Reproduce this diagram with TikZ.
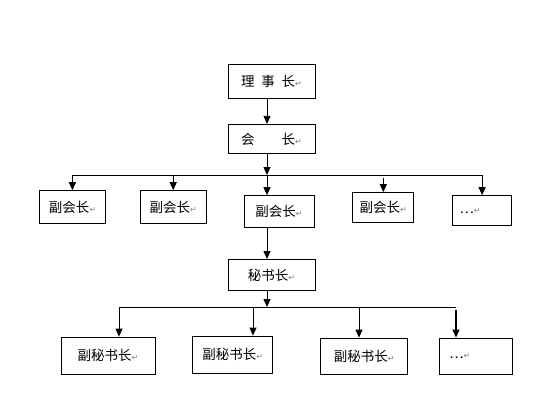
\documentclass[tikz,border=0pt]{standalone}
\usepackage{fontspec}
\setmainfont{Liberation Serif}
\newfontfamily\cjk{Noto Sans CJK SC}
\newfontfamily\symfont{DejaVu Sans}
\usetikzlibrary{arrows.meta,positioning}
\newcommand{\pmark}{{\symfont\fontsize{8}{8}\selectfont\color{gray}↵}}
\tikzset{
  box/.style={draw,line width=0.8pt,inner sep=0pt,font=\cjk\fontsize{13.5}{15}\selectfont},
  dotbox/.style={box,inner xsep=7pt,align=left,text width=#1},
  arr/.style={line width=0.8pt,-{Triangle[length=8pt,width=7pt]}},
  link/.style={line width=0.8pt}
}

\begin{document}
\begin{tikzpicture}[x=1pt,y=-1pt]
  \useasboundingbox (0,0) rectangle (552,413);
  % main column
  \node[box,minimum width=87pt,minimum height=34.5pt] (lsz) at (271.5,81.25) {理\hspace{0.5em}事\hspace{0.5em}长\pmark};
  \node[box,minimum width=87pt,minimum height=29.5pt,below=25pt of lsz] (hz) {会\hspace{2em}长\pmark};
  \node[box,minimum width=70pt,minimum height=32pt,below=41pt of hz,xshift=7.5pt] (vp3) {副会长\pmark};
  \node[box,minimum width=87pt,minimum height=31pt,below=31pt of vp3,xshift=-7.5pt] (ms) {秘书长\pmark};
  % vice presidents
  \node[box,minimum width=66pt,minimum height=33pt,left=37pt of vp3,yshift=4.5pt] (vp2) {副会长\pmark};
  \node[box,minimum width=66pt,minimum height=33pt,left=34pt of vp2] (vp1) {副会长\pmark};
  \node[box,minimum width=61pt,minimum height=30pt,right=38pt of vp3,yshift=4pt] (vp4) {副会长\pmark};
  \node[dotbox=45pt,minimum height=30pt,right=38pt of vp4,yshift=-3pt] (vp5) {…\pmark};
  % deputy secretaries
  \node[box,minimum width=94pt,minimum height=37pt] (avp1) at (108,355.5) {副秘书长\pmark};
  \node[box,minimum width=80pt,minimum height=37pt,right=37pt of avp1,yshift=1pt] (avp2) {副秘书长\pmark};
  \node[box,minimum width=87pt,minimum height=36pt,right=47pt of avp2,yshift=-1.5pt] (avp3) {副秘书长\pmark};
  \node[dotbox=53pt,inner xsep=10pt,minimum height=36pt,right=31pt of avp3] (avp4) {…\pmark};

  \coordinate (spine) at (267,0);
  \coordinate (bus1) at (267,175);
  \foreach \n/\x in {1/119,2/253,3/359,4/456}
    \coordinate (d\n) at (\x,307);

  \draw[arr] (lsz.south -| spine) -- (hz.north -| spine);
  \draw[arr] (hz.south -| spine) -- (bus1);
  \draw[link] (vp1.north |- bus1) -- (vp5.north |- bus1);
  \foreach \v in {vp1,vp2,vp5}{
    \draw[arr] (\v.north |- bus1) -- (\v.north);
  }
  \draw[arr,shorten <=2.5pt] (vp4.north |- bus1) -- (vp4.north);
  \draw[arr] (bus1) -- (vp3.north -| spine);
  \draw[arr] (vp3.south -| spine) -- (ms.north -| spine);
  \draw[arr] (ms.south -| spine) -- (d2 -| spine);
  \draw[link] (d1) -- (d4);
  \foreach \n in {1,2,3}{
    \draw[arr] (d\n) -- (d\n |- avp\n.north);
  }
  \draw[arr,line width=1.2pt,shorten <=3pt] (d4) -- (d4 |- avp4.north);
\end{tikzpicture}
\end{document}
